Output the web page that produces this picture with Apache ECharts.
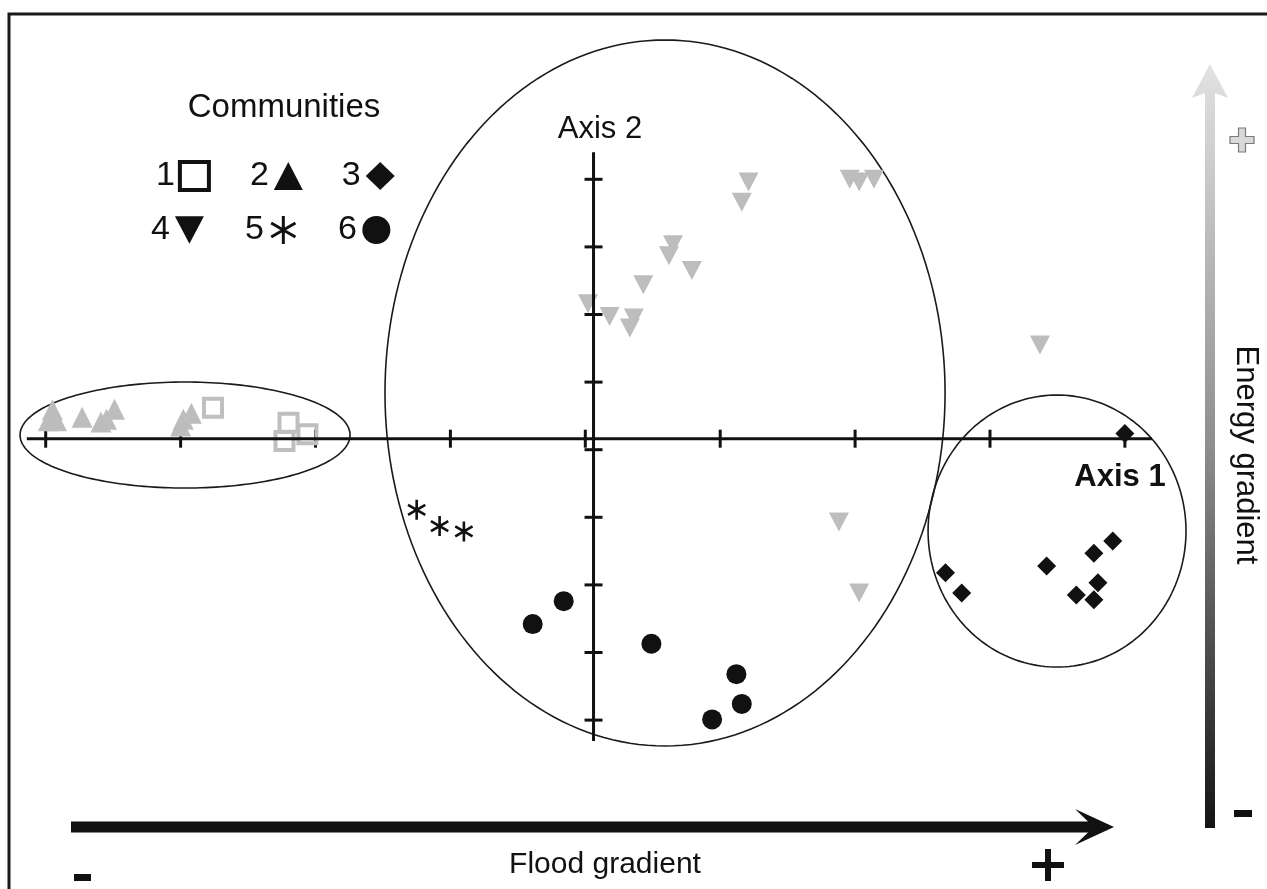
<!DOCTYPE html>
<html><head><meta charset="utf-8">
<script src="https://cdn.jsdelivr.net/npm/echarts@6/dist/echarts.min.js"></script>
<style>html,body{margin:0;padding:0;background:#fff}#chart{width:1267px;height:889px}</style>
</head><body><div id="chart"></div>
<script>
// ---- Data (ordination scores, axis units = tick spacing) ----
const community1 = [[-2.76,0.62],[-2.20,0.40],[-2.06,0.23],[-2.23,0.13]];
const community2 = [[-3.95,0.59],[-3.98,0.43],[-3.92,0.43],[-3.73,0.48],[-3.59,0.41],[-3.55,0.45],[-3.49,0.60],[-3.00,0.35],[-2.98,0.45],[-2.92,0.54]];
const community3 = [[4.00,0.24],[2.67,-1.82],[2.79,-2.12],[3.42,-1.72],[3.77,-1.53],[3.91,-1.35],[3.80,-1.97],[3.64,-2.15],[3.77,-2.22]];
const community4 = [[0.02,2.16],[0.18,1.97],[0.36,1.95],[0.33,1.80],[0.43,2.44],[0.65,3.03],[0.62,2.87],[0.79,2.65],[1.21,3.96],[1.16,3.66],[1.96,4.00],[2.03,3.96],[2.14,4.00],[3.37,1.55],[1.88,-1.07],[2.03,-2.12]];
const community5 = [[-1.25,-0.89],[-1.08,-1.13],[-0.90,-1.21]];
const community6 = [[-0.16,-2.24],[-0.39,-2.58],[0.49,-2.87],[1.12,-3.32],[1.16,-3.76],[0.94,-3.99]];
const communityNames = ['1','2','3','4','5','6'];
const xTicks = [-4,-3,-2,-1,0,1,2,3,4];
const yTicks = [-4,-3,-2,-1,0,1,2,3,4];
const axis1Line = [[-4.14,0.163],[4.20,0.163]];
const axis2Line = [[0.061,4.40],[0.061,-4.31]];
// group ellipses: [centerX, centerY, radiusX, radiusY]
const groupEllipses = [[-2.967,0.217,1.223,0.784],[0.591,0.839,2.076,5.222],[3.497,-1.203,0.956,2.012]];

const FONT = "'Liberation Sans', Arial, sans-serif";
const GRAY = '#bdbdbd';
const BLACK = '#111111';
const ASTER = 'path://M10,0L10,20M1.34,5L18.66,15M1.34,15L18.66,5';
const INVTRI = 'path://M0,0L20,0L10,19Z';

const chart = echarts.init(document.getElementById('chart'));

function plus(cx, cy, a, t) {
  return [[cx-t,cy-a],[cx+t,cy-a],[cx+t,cy-t],[cx+a,cy-t],[cx+a,cy+t],[cx+t,cy+t],[cx+t,cy+a],[cx-t,cy+a],[cx-t,cy+t],[cx-a,cy+t],[cx-a,cy-t],[cx-t,cy-t]];
}

const legendBase = {
  orient: 'horizontal', align: 'right', itemWidth: 29, itemHeight: 28, itemGap: 39,
  selectedMode: false, textStyle: {fontSize: 34, color: BLACK, fontFamily: FONT}
};

const option = {
  animation: false,
  backgroundColor: '#fff',
  grid: {left: 0, right: 0, top: 0, bottom: 0},
  xAxis: {type: 'value', min: -4.3388, max: 5.0534, show: false},
  yAxis: {type: 'value', min: -6.4985, max: 6.6524, show: false},
  legend: [
    Object.assign({}, legendBase, {left: 151, top: 154, data: [
      {name: '1', icon: 'rect', itemStyle: {color: 'rgba(0,0,0,0)', borderColor: BLACK, borderWidth: 4, opacity: 1}},
      {name: '2', icon: 'triangle', itemStyle: {color: BLACK, borderWidth: 0, opacity: 1}},
      {name: '3', icon: 'diamond', itemStyle: {color: BLACK, borderWidth: 0, opacity: 1}}
    ]}),
    Object.assign({}, legendBase, {left: 146, top: 208, itemGap: 41, data: [
      {name: '4', icon: INVTRI, itemStyle: {color: BLACK, borderWidth: 0, opacity: 1}},
      {name: '5', icon: ASTER, itemStyle: {color: 'rgba(0,0,0,0)', borderColor: BLACK, borderWidth: 3, opacity: 1}},
      {name: '6', icon: 'circle', itemStyle: {color: BLACK, borderWidth: 0, opacity: 1}}
    ]})
  ],
  series: [
    {type: 'custom', name: 'groups', data: groupEllipses, encode: {x: 0, y: 1}, clip: false, silent: true,
      renderItem: function (params, api) {
        const c = api.coord([api.value(0), api.value(1)]);
        const s = api.size([api.value(2), api.value(3)]);
        const pts = [];
        for (let i = 0; i < 200; i++) {
          const t = i / 200 * Math.PI * 2;
          pts.push([c[0] + s[0] * Math.cos(t), c[1] + s[1] * Math.sin(t)]);
        }
        return {type: 'polygon', shape: {points: pts}, style: {fill: 'none', stroke: '#1a1a1a', lineWidth: 1.6}};
      }},
    {type: 'line', name: 'axis1', data: axis1Line, symbol: 'none', silent: true, lineStyle: {color: BLACK, width: 3}},
    {type: 'line', name: 'axis2', data: axis2Line, symbol: 'none', silent: true, lineStyle: {color: BLACK, width: 3}},
    {type: 'scatter', name: 'xticks', data: xTicks.map(v => [v, axis1Line[0][1]]), symbol: 'rect', symbolSize: [3, 18], silent: true, itemStyle: {color: BLACK, opacity: 1}},
    {type: 'scatter', name: 'yticks', data: yTicks.map(v => [axis2Line[0][0], v]), symbol: 'rect', symbolSize: [18, 3], silent: true, itemStyle: {color: BLACK, opacity: 1}},
    {type: 'scatter', name: '1', data: community1, symbol: 'rect', symbolSize: 18, itemStyle: {color: 'rgba(0,0,0,0)', borderColor: '#bfbfbf', borderWidth: 4, opacity: 1}},
    {type: 'scatter', name: '2', data: community2, symbol: 'triangle', symbolSize: 21, itemStyle: {color: GRAY, opacity: 1}},
    {type: 'scatter', name: '3', data: community3, symbol: 'diamond', symbolSize: 19, itemStyle: {color: BLACK, opacity: 1}},
    {type: 'scatter', name: '4', data: community4, symbol: INVTRI, symbolSize: [20, 19], itemStyle: {color: GRAY, opacity: 1}},
    {type: 'scatter', name: '5', data: community5, symbol: ASTER, symbolSize: 20, symbolKeepAspect: true, itemStyle: {color: 'rgba(0,0,0,0)', borderColor: BLACK, borderWidth: 2.6, opacity: 1}},
    {type: 'scatter', name: '6', data: community6, symbol: 'circle', symbolSize: 20, itemStyle: {color: BLACK, opacity: 1}}
  ],
  graphic: [
    {type: 'rect', silent: true, shape: {x: 9, y: 14, width: 1300, height: 900}, style: {fill: 'none', stroke: '#1a1a1a', lineWidth: 3}},
    {type: 'text', silent: true, x: 284, y: 108, style: {text: 'Communities', fontSize: 33, fontFamily: FONT, fill: BLACK, align: 'center', verticalAlign: 'middle'}},
    {type: 'text', silent: true, x: 600, y: 129, style: {text: 'Axis 2', fontSize: 31, fontFamily: FONT, fill: BLACK, align: 'center', verticalAlign: 'middle'}},
    {type: 'text', silent: true, x: 1120, y: 477, style: {text: 'Axis 1', fontSize: 31, fontWeight: 'bold', fontFamily: FONT, fill: BLACK, align: 'center', verticalAlign: 'middle'}},
    {type: 'text', silent: true, x: 605, y: 865, style: {text: 'Flood gradient', fontSize: 30, fontFamily: FONT, fill: BLACK, align: 'center', verticalAlign: 'middle'}},
    {type: 'text', silent: true, x: 1246, y: 455, rotation: -Math.PI / 2, style: {text: 'Energy gradient', fontSize: 31, fontFamily: FONT, fill: BLACK, align: 'center', verticalAlign: 'middle'}},
    {type: 'polygon', silent: true, shape: {points: [[71,821.5],[1088,821.5],[1075,809],[1114,827],[1075,845],[1088,832.5],[71,832.5]]}, style: {fill: BLACK}},
    {type: 'polygon', silent: true, shape: {points: [[1205,828],[1205,93],[1192,98],[1210,64],[1228,98],[1215,93],[1215,828]]},
      style: {fill: new echarts.graphic.LinearGradient(0, 0, 0, 1, [{offset: 0, color: '#e2e2e2'}, {offset: 0.5, color: '#8e8e8e'}, {offset: 1, color: '#141414'}])}},
    {type: 'polygon', silent: true, shape: {points: plus(1242, 140, 12, 3.5)}, style: {fill: '#d9d9d9', stroke: '#7a7a7a', lineWidth: 1.2}},
    {type: 'polygon', silent: true, shape: {points: plus(1048, 865, 16, 3)}, style: {fill: BLACK}},
    {type: 'rect', silent: true, shape: {x: 1234, y: 810, width: 18, height: 7}, style: {fill: BLACK}},
    {type: 'rect', silent: true, shape: {x: 74, y: 874, width: 17, height: 7}, style: {fill: BLACK}}
  ]
};
chart.setOption(option);
</script></body></html>
